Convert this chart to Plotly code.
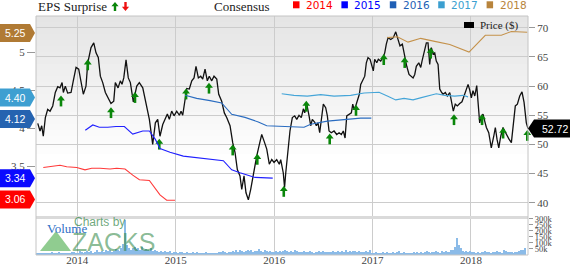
import plotly.graph_objects as go

# ---------------- data ----------------
price_t = [
2013.598, 2013.621, 2013.638, 2013.654, 2013.675, 2013.699, 2013.723, 2013.750, 2013.776, 2013.801,
2013.824, 2013.845, 2013.858, 2013.878, 2013.902, 2013.936, 2013.959, 2013.987, 2014.014, 2014.038,
2014.061, 2014.088, 2014.106, 2014.139, 2014.167, 2014.190, 2014.213, 2014.234, 2014.258, 2014.285,
2014.309, 2014.342, 2014.370, 2014.386, 2014.414, 2014.437, 2014.454, 2014.472, 2014.495, 2014.518,
2014.539, 2014.569, 2014.604, 2014.630, 2014.665, 2014.698, 2014.732, 2014.766, 2014.793, 2014.817,
2014.840, 2014.868, 2014.891, 2014.915, 2014.935, 2014.959, 2014.983, 2015.010, 2015.037, 2015.054,
2015.071, 2015.095, 2015.112, 2015.138, 2015.163, 2015.186, 2015.206, 2015.230, 2015.254, 2015.274,
2015.298, 2015.321, 2015.341, 2015.366, 2015.389, 2015.417, 2015.437, 2015.467, 2015.494, 2015.518,
2015.552, 2015.579, 2015.603, 2015.626, 2015.653, 2015.671, 2015.694, 2015.714, 2015.738, 2015.762,
2015.789, 2015.823, 2015.850, 2015.874, 2015.897, 2015.925, 2015.951, 2015.976, 2015.999, 2016.026,
2016.053, 2016.067, 2016.093, 2016.106, 2016.118, 2016.134, 2016.161, 2016.185, 2016.209, 2016.230,
2016.253, 2016.276, 2016.297, 2016.311, 2016.331, 2016.355, 2016.372, 2016.388, 2016.413, 2016.429,
2016.446, 2016.463, 2016.480, 2016.500, 2016.524, 2016.541, 2016.558, 2016.581, 2016.609, 2016.636,
2016.660, 2016.683, 2016.703, 2016.721, 2016.738, 2016.761, 2016.785, 2016.799, 2016.812, 2016.829,
2016.846, 2016.866, 2016.880, 2016.900, 2016.921, 2016.937, 2016.954, 2016.975, 2016.992, 2017.008,
2017.022, 2017.043, 2017.059, 2017.083, 2017.107, 2017.124, 2017.140, 2017.158, 2017.185, 2017.211,
2017.236, 2017.259, 2017.279, 2017.303, 2017.327, 2017.348, 2017.371, 2017.388, 2017.412, 2017.429,
2017.445, 2017.470, 2017.490, 2017.503, 2017.523, 2017.547, 2017.564, 2017.581, 2017.598, 2017.615,
2017.632, 2017.648, 2017.666, 2017.683, 2017.699, 2017.716, 2017.740, 2017.760, 2017.785, 2017.801,
2017.821, 2017.841, 2017.862, 2017.886, 2017.909, 2017.930, 2017.953, 2017.971, 2017.988, 2018.004,
2018.021, 2018.039, 2018.059, 2018.072, 2018.089, 2018.106, 2018.123, 2018.140, 2018.157, 2018.181,
2018.207, 2018.232, 2018.248, 2018.265, 2018.283, 2018.303, 2018.326, 2018.343, 2018.367, 2018.387,
2018.411, 2018.431, 2018.451, 2018.472, 2018.496, 2018.519, 2018.540, 2018.563, 2018.580]

price_v = [
53.6, 52.3, 53.2, 51.4, 54.6, 56.0, 55.7, 56.6, 58.9, 59.9,
59.7, 60.6, 58.9, 60.0, 58.8, 58.9, 60.9, 63.2, 62.9, 60.9,
58.6, 60.0, 64.0, 66.6, 67.4, 65.7, 64.9, 61.7, 60.6, 58.9,
58.0, 57.0, 57.4, 60.6, 59.7, 60.9, 60.3, 61.4, 64.5, 61.4,
60.6, 57.3, 60.0, 60.6, 59.7, 56.9, 54.3, 50.0, 53.7, 54.3,
51.4, 53.4, 54.3, 55.2, 54.3, 55.7, 54.9, 55.7, 55.0, 55.7,
55.0, 58.3, 59.6, 59.5, 60.9, 61.4, 63.4, 61.4, 61.7, 61.2,
62.9, 60.9, 61.7, 60.9, 61.7, 61.2, 58.6, 57.4, 55.4, 54.6,
53.2, 50.3, 48.6, 45.7, 44.6, 42.3, 44.6, 41.7, 40.5, 42.3,
45.1, 48.0, 50.0, 51.7, 50.6, 49.2, 46.6, 47.4, 46.9, 47.4,
46.6, 47.4, 45.1, 42.6, 45.1, 48.0, 52.3, 54.6, 54.9, 54.3,
55.0, 54.6, 56.1, 55.4, 57.0, 54.9, 53.2, 54.3, 53.8, 53.2,
53.7, 52.0, 54.3, 56.9, 56.3, 54.9, 52.3, 52.0, 52.3, 51.7,
52.0, 51.7, 52.3, 51.1, 54.9, 55.2, 55.4, 56.9, 56.0, 56.6,
57.7, 58.6, 60.3, 60.9, 61.7, 64.0, 64.9, 64.6, 63.4, 62.6,
64.6, 64.0, 64.6, 64.3, 64.9, 65.7, 67.2, 68.3, 68.0, 68.3,
69.3, 68.0, 66.9, 67.2, 64.9, 63.4, 62.0, 61.7, 61.4, 62.0,
63.4, 64.0, 63.2, 64.3, 65.7, 67.4, 67.4, 63.7, 66.6, 65.5,
65.7, 64.3, 63.7, 59.5, 59.0, 58.6, 58.9, 58.3, 58.9, 57.2,
55.7, 56.9, 56.6, 57.0, 57.3, 58.3, 59.5, 60.3, 59.3, 58.0,
59.2, 58.3, 60.1, 57.2, 53.7, 54.9, 55.2, 54.0, 52.9, 52.0,
49.4, 51.4, 52.9, 50.9, 49.4, 51.4, 52.9, 52.3, 51.4, 50.9,
50.3, 53.7, 56.6, 56.9, 58.3, 59.0, 57.2, 53.7, 52.72]

cons_2014_t = [2013.654, 2013.824, 2013.892, 2013.994, 2014.078, 2014.146, 2014.231, 2014.332,
               2014.400, 2014.485, 2014.563, 2014.631, 2014.732, 2014.840, 2014.908, 2014.993]
cons_2014_v = [3.48, 3.51, 3.49, 3.48, 3.45, 3.47, 3.47, 3.46, 3.47, 3.46, 3.38, 3.32, 3.31, 3.12, 3.05, 3.05]

cons_2015_t = [2014.081, 2014.157, 2014.224, 2014.309, 2014.393, 2014.478, 2014.563, 2014.665, 2014.732,
               2014.793, 2014.840, 2014.942, 2015.077, 2015.280, 2015.484, 2015.569, 2015.653, 2015.806, 2015.986]
cons_2015_v = [3.97, 4.04, 4.01, 4.01, 4.02, 4.02, 3.92, 3.96, 3.96, 3.85, 3.73, 3.68, 3.63, 3.60, 3.57,
               3.45, 3.41, 3.35, 3.34]

cons_2016_t = [2015.095, 2015.213, 2015.349, 2015.467, 2015.569, 2015.704, 2015.839, 2015.925, 2016.111,
               2016.304, 2016.372, 2016.541, 2016.710, 2016.880, 2016.988]
cons_2016_v = [4.43, 4.39, 4.36, 4.33, 4.18, 4.14, 4.08, 4.03, 4.02, 4.01, 4.05, 4.09, 4.11, 4.13, 4.13]

cons_2017_t = [2016.077, 2016.202, 2016.337, 2016.474, 2016.609, 2016.778, 2016.914, 2017.066, 2017.150,
               2017.236, 2017.320, 2017.412, 2017.496, 2017.648, 2017.734, 2017.835, 2017.920, 2017.971]
cons_2017_v = [4.45, 4.43, 4.42, 4.44, 4.42, 4.43, 4.46, 4.47, 4.42, 4.37, 4.39, 4.37, 4.40, 4.45, 4.43,
               4.42, 4.43, 4.41]

cons_2018_t = [2017.150, 2017.252, 2017.361, 2017.490, 2017.632, 2017.785, 2017.981, 2018.146, 2018.309,
               2018.411, 2018.573]
cons_2018_v = [5.19, 5.20, 5.13, 5.18, 5.14, 5.10, 5.00, 5.22, 5.22, 5.27, 5.26]

surprise_t = [2013.834, 2014.106, 2014.342, 2014.586, 2014.833, 2015.105, 2015.338, 2015.579, 2015.829,
              2016.098, 2016.327, 2016.565, 2016.832, 2017.114, 2017.327, 2017.591, 2017.828, 2018.113,
              2018.327, 2018.573]
surprise_p = [57.8, 64.0, 55.8, 58.4, 50.4, 59.0, 60.0, 49.4, 47.8, 42.3, 56.9, 51.3, 56.2, 64.9, 64.4,
              66.0, 54.6, 54.6, 52.3, 51.9]

vol_start = 2013.585
vol_k = [
15, 12, 18, 14, 20, 16, 13, 17, 22, 15, 14, 19, 25, 18, 16, 14, 20, 17, 15, 22, 28, 18, 16, 30, 24, 20,
26, 35, 22, 30, 18, 25, 40, 28, 22, 33, 26, 45, 30, 38, 27, 35, 50, 42, 32, 60, 95, 290, 80, 55, 45, 62,
70, 48, 55, 40, 65, 38, 50, 45, 35, 58, 30, 42, 36, 28, 33, 25, 30, 22, 26, 35, 20, 24, 28, 18, 22, 25,
20, 18, 22, 16, 19, 24, 17, 21, 15, 18, 20, 16, 22, 19, 14, 17, 15, 20, 18, 25, 22, 30, 26, 20, 28, 24,
32, 25, 38, 28, 42, 30, 26, 35, 45, 33, 40, 28, 36, 30, 48, 34, 27, 38, 30, 25, 32, 22, 28, 35, 26, 30,
28, 35, 40, 30, 26, 33, 24, 38, 30, 22, 28, 25, 34, 27, 22, 30, 26, 20, 24, 28, 32, 25, 30, 22, 27, 24,
26, 30, 22, 28, 35, 25, 30, 24, 40, 28, 32, 26, 36, 30, 25, 33, 28, 22, 26, 30, 24, 38, 20, 18, 22, 16,
20, 18, 24, 16, 22, 19, 15, 26, 18, 22, 30, 20, 17, 24, 19, 15, 20, 18, 22, 16, 28, 20, 25, 18, 22, 30,
25, 20, 28, 22, 32, 26, 20, 35, 24, 30, 22, 28, 38, 45, 70, 142, 85, 55, 35, 28, 32, 24, 30, 26, 22, 20,
24, 20, 26, 22, 30, 25, 28, 20, 24, 22, 35, 28, 24, 20, 45, 30, 24, 22, 28, 20, 26, 24, 30, 38, 45, 60]
vol_t = [vol_start + i * 7 / 365.25 for i in range(len(vol_k))]
vol_v = [v * 1000 for v in vol_k]

year_ticks = [2014, 2015, 2016, 2017, 2018]
price_ticks = [40, 45, 50, 55, 60, 65, 70]
eps_ticks = [3.5, 4, 4.5, 5]
vol_ticks = [50000, 100000, 150000, 200000, 250000, 300000]
vol_ticktext = ["50k", "100k", "150k", "200k", "250k", "300k"]

series_years = ["2014", "2015", "2016", "2017", "2018"]
series_colors = ["#ff0000", "#0000ff", "#1f5fb5", "#3b9fd0", "#b8843c"]
line_colors = ["#ff3a3a", "#2020ff", "#2a6cc0", "#45a5d8", "#c4914a"]
tag_values = [3.06, 3.34, 4.12, 4.40, 5.25]
tag_colors = ["#ff0000", "#0a0aff", "#2563b0", "#3e9fd1", "#b07a34"]

# ---------------- layout geometry ----------------
W, H = 570, 264
ML, MR, MT, MB = 36, 42, 16, 9
PW = W - ML - MR
PH = H - MT - MB


def fx(xp):
    return (xp - ML) / PW


def fy(yp):
    return (H - MB - yp) / PH


SERIF = "Liberation Serif"
SANS = "Liberation Sans"

fig = go.Figure()

cons = [(cons_2014_t, cons_2014_v), (cons_2015_t, cons_2015_v), (cons_2016_t, cons_2016_v),
        (cons_2017_t, cons_2017_v), (cons_2018_t, cons_2018_v)]
for (t, v), c in zip(cons, line_colors):
    fig.add_trace(go.Scatter(x=t, y=v, yaxis="y2", mode="lines",
                             line=dict(color=c, width=1.1), hoverinfo="skip"))

fig.add_trace(go.Scatter(x=price_t, y=price_v, yaxis="y", mode="lines",
                         line=dict(color="#111111", width=1.3)))

# surprise arrows: head + stem
fig.add_trace(go.Scatter(x=surprise_t, y=surprise_p, yaxis="y", mode="markers", cliponaxis=False,
                         marker=dict(symbol="line-ns", size=5, standoff=4, color="#0a860a",
                                     line=dict(width=2.6, color="#0a860a"))))
fig.add_trace(go.Scatter(x=surprise_t, y=surprise_p, yaxis="y", mode="markers", cliponaxis=False,
                         marker=dict(symbol="triangle-up", size=6.8, color="#0a860a",
                                     line=dict(width=0))))

fig.add_trace(go.Bar(x=vol_t, y=vol_v, yaxis="y3", marker=dict(color="#8bbbe8", line=dict(width=0)),
                     width=0.011))

shapes = []
# background gradient of price panel
n = 24
for i in range(n):
    y0 = MT + i * 6
    c = int(229 + (255 - 229) * i / (n - 1))
    shapes.append(dict(type="rect", xref="paper", yref="paper", x0=0, x1=1, y0=fy(y0 + 6.5), y1=fy(y0),
                       fillcolor=f"rgb({c},{c},{c})", line=dict(width=0), layer="below"))

# separator between panels
shapes.append(dict(type="line", xref="paper", yref="paper", x0=0, x1=1, y0=fy(217.5), y1=fy(217.5),
                   line=dict(color="#dadada", width=3), layer="above"))
# frame
shapes.append(dict(type="rect", xref="paper", yref="paper", x0=0, x1=1, y0=0, y1=1,
                   line=dict(color="#c4c4c4", width=1), layer="above"))

# left value tags
for v, c in zip(tag_values, tag_colors):
    shapes.append(dict(type="path", xref="paper", yref="y2", xsizemode="pixel", ysizemode="pixel",
                       xanchor=0, yanchor=v, path="M-36,9 L-6,9 L-1,0 L-6,-9 L-36,-9 Z",
                       fillcolor=c, line=dict(width=0), layer="above"))
# right price tag
shapes.append(dict(type="path", xref="paper", yref="y", xsizemode="pixel", ysizemode="pixel",
                   xanchor=1, yanchor=price_v[-1], path="M0,0 L6,9 L42,9 L42,-9 L6,-9 Z",
                   fillcolor="#000000", line=dict(width=0), layer="above"))

# header arrows
up_path = "M-3.6,0.3 L0,4.4 L3.6,0.3 L1.2,0.3 L1.2,-4.4 L-1.2,-4.4 L-1.2,0.3 Z"
down_path = "M-3.6,-0.3 L0,-4.4 L3.6,-0.3 L1.2,-0.3 L1.2,4.4 L-1.2,4.4 L-1.2,-0.3 Z"
shapes.append(dict(type="path", xref="paper", yref="paper", xsizemode="pixel", ysizemode="pixel",
                   xanchor=fx(115), yanchor=fy(6.5), path=up_path, fillcolor="#0a860a",
                   line=dict(width=0), layer="above"))
shapes.append(dict(type="path", xref="paper", yref="paper", xsizemode="pixel", ysizemode="pixel",
                   xanchor=fx(125.5), yanchor=fy(6.5), path=down_path, fillcolor="#ee1111",
                   line=dict(width=0), layer="above"))

annotations = []
annotations.append(dict(text="EPS Surprise", x=fx(36), y=fy(7), xref="paper", yref="paper",
                        xanchor="left", yanchor="middle", showarrow=False,
                        font=dict(family=SERIF, size=13, color="#222222")))
annotations.append(dict(text="Consensus", x=fx(212), y=fy(6), xref="paper", yref="paper",
                        xanchor="left", yanchor="middle", showarrow=False,
                        font=dict(family=SERIF, size=13, color="#222222")))
for i, (yr, c) in enumerate(zip(series_years, series_colors)):
    tx = 304 + 48.4 * i
    shapes.append(dict(type="rect", xref="paper", yref="paper", x0=fx(tx - 11), x1=fx(tx - 4.5),
                       y0=fy(8.3), y1=fy(1.3), fillcolor=c, line=dict(width=0)))
    annotations.append(dict(text=yr, x=fx(tx), y=fy(5.2), xref="paper", yref="paper",
                            xanchor="left", yanchor="middle", showarrow=False,
                            font=dict(family="DejaVu Sans", size=10.5, color=c)))

# price legend
shapes.append(dict(type="rect", xref="paper", yref="paper", x0=fx(464), x1=fx(474), y0=fy(28), y1=fy(22),
                   fillcolor="#000000", line=dict(width=0), layer="above"))
annotations.append(dict(text="Price ($)", x=fx(478), y=fy(25), xref="paper", yref="paper",
                        xanchor="left", yanchor="middle", showarrow=False,
                        font=dict(family=SERIF, size=11, color="#222222")))

# tag labels
for v in tag_values:
    annotations.append(dict(text=f"{v:.2f}", x=0, y=v, xref="paper", yref="y2", xanchor="left",
                            yanchor="middle", xshift=-33, showarrow=False,
                            font=dict(family=SANS, size=10.5, color="white")))
annotations.append(dict(text=f"{price_v[-1]:.2f}", x=1, y=price_v[-1], xref="paper", yref="y",
                        xanchor="left", yanchor="middle", xshift=12, showarrow=False,
                        font=dict(family=SANS, size=10.5, color="white")))

# volume label & watermark
annotations.append(dict(text="Volume", x=fx(45), y=fy(228), xref="paper", yref="paper",
                        xanchor="left", yanchor="middle", showarrow=False,
                        font=dict(family=SERIF, size=13, color="#2f6fc6")))
annotations.append(dict(text="Charts by", x=fx(72), y=fy(222), xref="paper", yref="paper",
                        xanchor="left", yanchor="middle", showarrow=False,
                        font=dict(family=SANS, size=12, color="rgba(60,140,80,0.75)")))
annotations.append(dict(text="ZACKS", x=fx(70), y=fy(241.5), xref="paper", yref="paper",
                        xanchor="left", yanchor="middle", showarrow=False,
                        font=dict(family=SANS, size=25, color="rgba(40,130,60,0.55)")))
shapes.append(dict(type="path", xref="paper", yref="paper",
                   path=f"M{fx(40)},{fy(251)} L{fx(56)},{fy(231)} L{fx(71)},{fy(251)} Z",
                   fillcolor="rgba(70,170,70,0.6)", line=dict(width=0), layer="above"))

tickfont = dict(family=SERIF, size=11, color="#444444")

fig.update_layout(
    width=W, height=H,
    margin=dict(l=ML, r=MR, t=MT, b=MB, autoexpand=False),
    paper_bgcolor="white", plot_bgcolor="white",
    showlegend=False,
    bargap=0,
    xaxis=dict(range=[2013.58, 2018.58], domain=[0, 1], anchor="y3", automargin=False,
               tickvals=year_ticks, ticktext=[str(y) for y in year_ticks],
               showgrid=True, gridcolor="#cccccc", gridwidth=1, zeroline=False,
               ticks="", ticklen=0, tickfont=tickfont, showline=False, ticklabelstandoff=-3),
    yaxis=dict(domain=[fy(217), 1], range=[37.55, 72.02], side="right", anchor="x", automargin=False,
               tickvals=price_ticks, showgrid=True, gridcolor="#cccccc", gridwidth=1,
               zeroline=False, ticks="outside", ticklen=6, tickcolor="#999999",
               tickfont=tickfont),
    yaxis2=dict(overlaying="y", side="left", anchor="x", range=[2.829, 5.474], automargin=False,
                tickvals=eps_ticks, ticktext=["3.5", "4", "4.5", "5"], showgrid=False,
                zeroline=False, ticks="outside", ticklen=8, tickcolor="#999999",
                tickfont=tickfont),
    yaxis3=dict(domain=[0, fy(218)], range=[0, 306000], side="right", anchor="x", automargin=False,
                tickvals=vol_ticks, ticktext=vol_ticktext, showgrid=False, zeroline=False,
                ticks="outside", ticklen=4, tickcolor="#999999",
                tickfont=dict(family=SERIF, size=8.5, color="#444444")),
    shapes=shapes,
    annotations=annotations,
)

fig.write_html("out.html")
